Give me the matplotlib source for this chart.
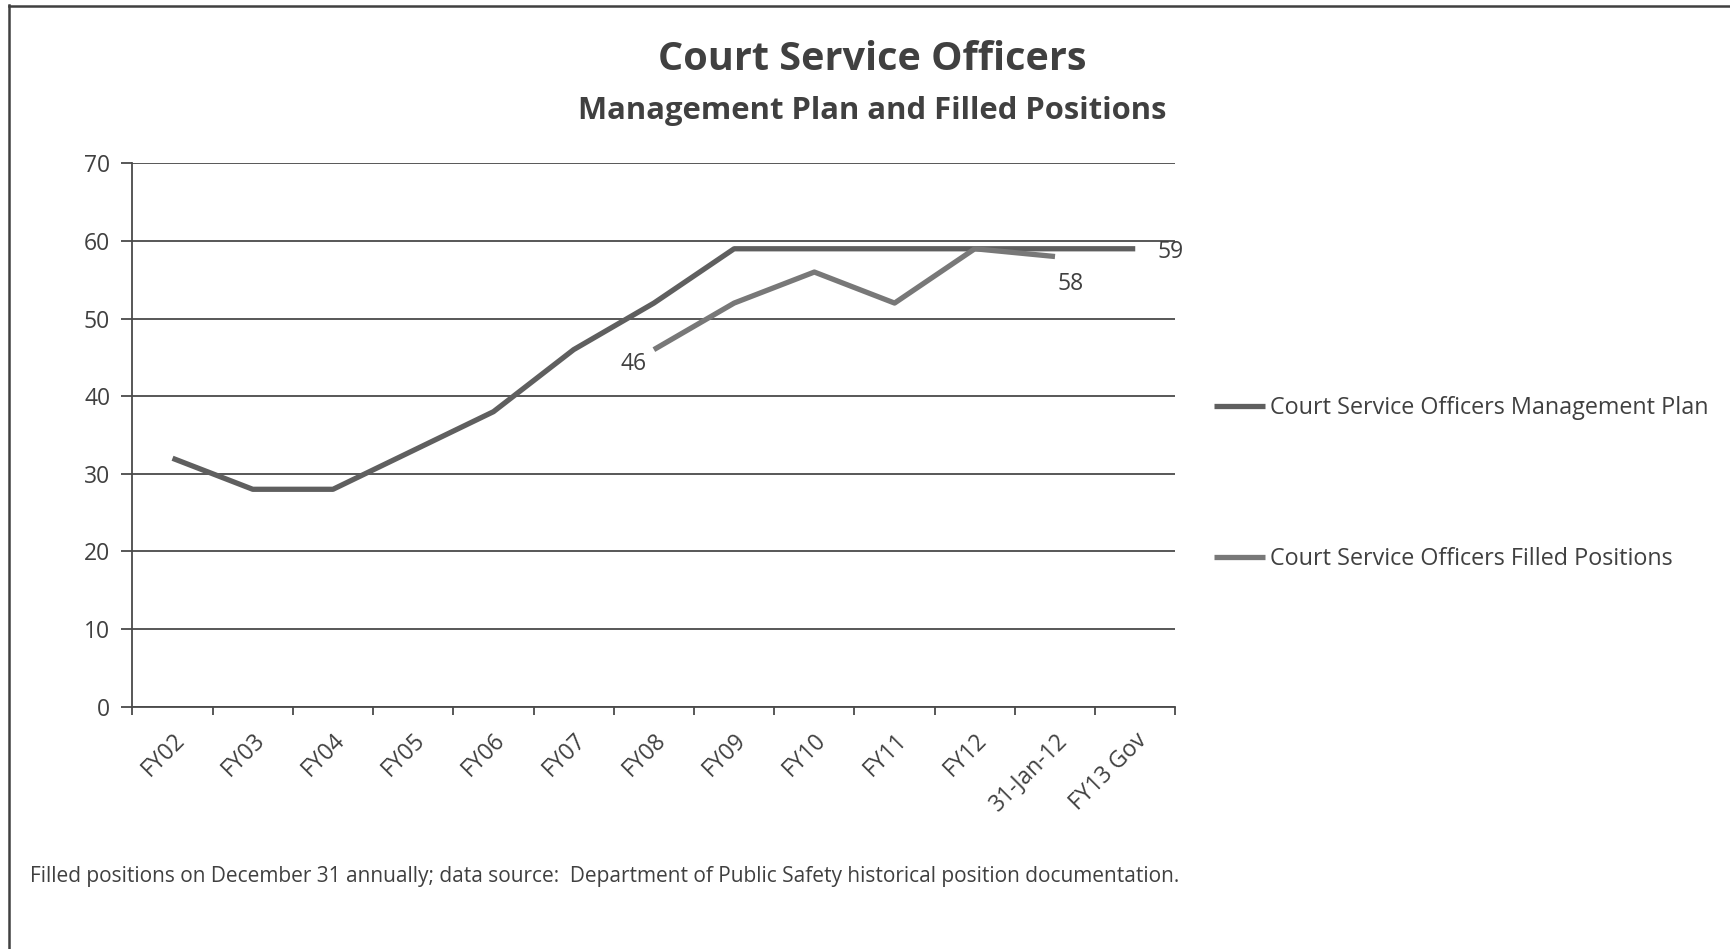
import matplotlib
matplotlib.use("Agg")
import matplotlib.pyplot as plt
from matplotlib.lines import Line2D
import numpy as np

plt.rcParams['font.family'] = ['Open Sans', 'DejaVu Sans']

categories = ["FY02", "FY03", "FY04", "FY05", "FY06", "FY07", "FY08",
              "FY09", "FY10", "FY11", "FY12", "31-Jan-12", "FY13 Gov"]
mgmt_plan = [32, 28, 28, 33, 38, 46, 52, 59, 59, 59, 59, 59, 59]
filled = [None, None, None, None, None, None, 46, 52, 56, 52, 59, 58, None]

text_col = "#404040"
grid_col = "#4a4a4a"

fig = plt.figure(figsize=(17.31, 9.49), dpi=100)
ax = fig.add_axes([0.0765, 0.2555, 0.6025, 0.5723])

x = np.arange(len(categories))
filled_arr = np.array([np.nan if v is None else v for v in filled], dtype=float)

ax.plot(x, mgmt_plan, color="#5f5f5f", lw=3.8, solid_capstyle="butt",
        label="Court Service Officers Management Plan", zorder=3)
ax.plot(x, filled_arr, color="#787878", lw=3.8, solid_capstyle="butt",
        label="Court Service Officers Filled Positions", zorder=3)

# data labels
fi = np.where(~np.isnan(filled_arr))[0]
ax.annotate(f"{int(filled_arr[fi[0]])}", (x[fi[0]], filled_arr[fi[0]]),
            xytext=(-5, -10), textcoords="offset points", ha="right", va="center",
            fontsize=16.5, color=text_col)
ax.annotate(f"{int(filled_arr[fi[-1]])}", (x[fi[-1]], filled_arr[fi[-1]]),
            xytext=(2, -20), textcoords="offset points", ha="left", va="center",
            fontsize=16.5, color=text_col)
ax.annotate(f"{mgmt_plan[-1]}", (x[-1], mgmt_plan[-1]),
            xytext=(16, -2), textcoords="offset points", ha="left", va="center",
            fontsize=16.5, color=text_col)

ax.set_xlim(-0.5, len(categories) - 0.5)
ax.set_ylim(0, 70)
ax.set_yticks(range(0, 71, 10))
ax.yaxis.grid(True, color=grid_col, lw=1.3)
ax.set_axisbelow(True)

ax.set_xticks(x)
ax.set_xticklabels(categories, rotation=45, ha="right", rotation_mode="anchor",
                   fontsize=16.5, color=text_col)
ax.tick_params(axis="x", length=0, pad=16)
ax.set_xticks(np.arange(-0.5, len(categories), 1.0), minor=True)
ax.tick_params(axis="x", which="minor", length=6, width=1.3, color=grid_col, direction="out")
ax.tick_params(axis="y", length=8, width=1.3, color=grid_col, labelsize=16.5,
               labelcolor=text_col, pad=8)

for s in ["top", "right"]:
    ax.spines[s].set_visible(False)
for s in ["left", "bottom"]:
    ax.spines[s].set_color(grid_col)
    ax.spines[s].set_linewidth(1.3)

fig.text(0.504, 0.937, "Court Service Officers", ha="center", va="center",
         fontsize=28.5, fontweight="bold", color=text_col)
fig.text(0.504, 0.883, "Management Plan and Filled Positions", ha="center", va="center",
         fontsize=22.3, fontweight="bold", color=text_col)

fig.legend(loc="center left", bbox_to_anchor=(0.7013, 0.4905), frameon=False,
           fontsize=16.8, handlelength=2.2, handletextpad=0.2, labelspacing=5.45,
           borderpad=0, borderaxespad=0, labelcolor=text_col)

fig.text(0.0173, 0.076, "Filled positions on December 31 annually; data source:  "
         "Department of Public Safety historical position documentation.",
         ha="left", va="center", fontsize=15, color=text_col)

# page frame
fig.add_artist(Line2D([9 / 1731, 9 / 1731], [0, 1 - 5 / 949], color="#404040", lw=1.8))
fig.add_artist(Line2D([9 / 1731, 1], [1 - 6 / 949, 1 - 6 / 949], color="#404040", lw=1.8))

fig.savefig("out.png", dpi=100)
